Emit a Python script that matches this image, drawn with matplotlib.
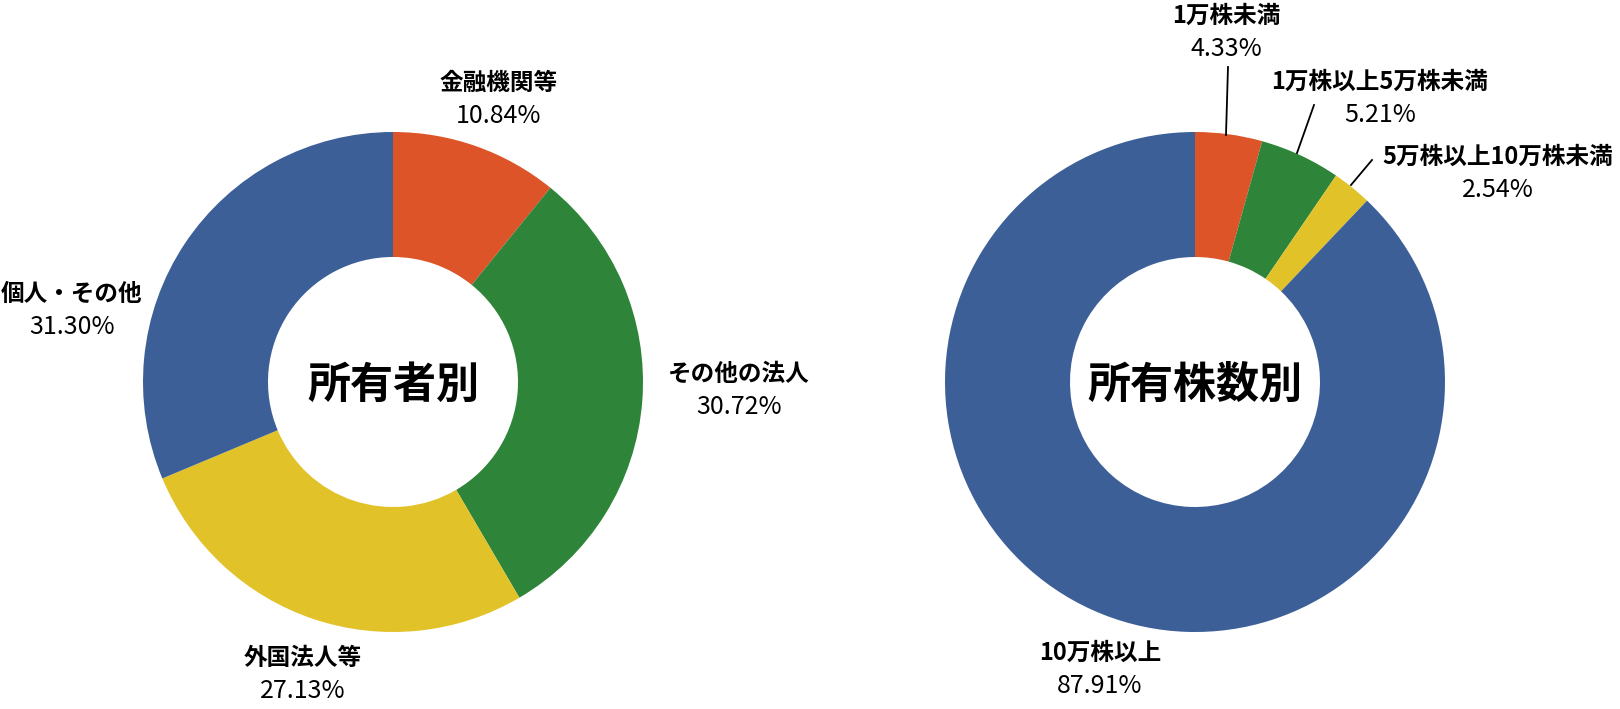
import matplotlib.pyplot as plt

plt.rcParams['font.family'] = ['Noto Sans CJK JP', 'DejaVu Sans']

# 所有者別
owner_labels = ['金融機関等', 'その他の法人', '外国法人等', '個人・その他']
owner_values = [10.84, 30.72, 27.13, 31.30]

# 所有株数別
share_labels = ['1万株未満', '1万株以上5万株未満', '5万株以上10万株未満', '10万株以上']
share_values = [4.33, 5.21, 2.54, 87.91]

colors = ['#DC5427', '#2E8539', '#E1C228', '#3D5F98']

W, H = 1620, 709
fig = plt.figure(figsize=(W / 100, H / 100), dpi=100)
ax = fig.add_axes([0, 0, 1, 1])
ax.set_xlim(0, W)
ax.set_ylim(0, H)
ax.set_aspect('equal')
ax.axis('off')

R = 250
def y(py):
    return H - py

def donut(values, cx, cy, title):
    ax.pie(values, colors=colors, startangle=90, counterclock=False,
           center=(cx, y(cy)), radius=R, frame=True,
           wedgeprops=dict(width=R * 0.5, linewidth=0))
    ax.text(cx, y(cy + 3), title, fontsize=31, fontweight='bold',
            ha='center', va='center')

def label(name, val, px, py):
    ax.text(px, y(py), name, fontsize=17, fontweight='bold',
            ha='center', va='center')
    ax.text(px, y(py + 33), f'{val:.2f}%', fontsize=18,
            ha='center', va='center')

donut(owner_values, 393, 382, '所有者別')
donut(share_values, 1195, 382, '所有株数別')

# 左の円のラベル
label(owner_labels[0], owner_values[0], 499, 83)
label(owner_labels[1], owner_values[1], 739, 374)
label(owner_labels[2], owner_values[2], 303, 658)
label(owner_labels[3], owner_values[3], 72, 294)

# 右の円のラベル
label(share_labels[0], share_values[0], 1226, 16)
label(share_labels[1], share_values[1], 1380, 82)
label(share_labels[2], share_values[2], 1498, 157)
label(share_labels[3], share_values[3], 1100, 653)

# 引き出し線
lines = [((1228, 67), (1226, 135)),
         ((1314, 105), (1297, 153)),
         ((1372, 160), (1351, 185))]
for (x0, y0), (x1, y1) in lines:
    ax.plot([x0, x1], [y(y0), y(y1)], color='black', lw=1.3)

ax.set_xlim(0, W)
ax.set_ylim(0, H)
fig.savefig('out.png', dpi=100)
